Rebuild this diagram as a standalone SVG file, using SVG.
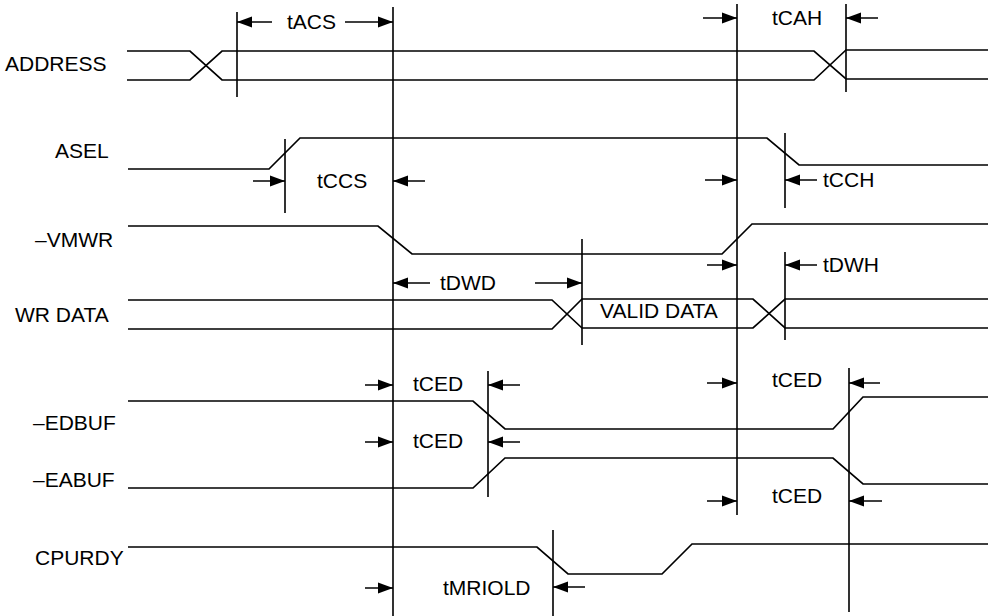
<svg xmlns="http://www.w3.org/2000/svg" width="990" height="616" viewBox="0 0 990 616">
<style>
text{font-family:"Liberation Sans",Arial,sans-serif;font-size:21px;fill:#000}
.sig{fill:none;stroke:#000;stroke-width:1.7;stroke-linejoin:miter}
.ref{fill:none;stroke:#000;stroke-width:1.6}
.dim{fill:none;stroke:#000;stroke-width:1.5;marker-end:url(#ah)}
</style>
<defs>
<marker id="ah" markerUnits="userSpaceOnUse" markerWidth="16" markerHeight="12" refX="15" refY="6" orient="auto">
<path d="M0,0.5 L15,6 L0,11.5 z" fill="#000"/>
</marker>
</defs>
<rect width="990" height="616" fill="#fff"/>

<g id="ADDRESS">
<text x="5" y="71">ADDRESS</text>
<path class="sig" d="M127,51 H190 L222,80 H814 L846,50 H988"/>
<path class="sig" d="M127,80 H190 L222,51 H814 L846,79 H988"/>
</g>
<g id="ASEL">
<text x="55" y="158">ASEL</text>
<path class="sig" d="M128,169 H269 L300,138 H767 L799,165 H988"/>
</g>
<g id="VMWR">
<text x="35" y="247">–VMWR</text>
<path class="sig" d="M128,226 H378 L412,254 H722 L752,224 H988"/>
</g>
<g id="WRDATA">
<text x="15" y="322">WR DATA</text>
<path class="sig" d="M128,300 H552 L582,328 H753 L785,299 H988"/>
<path class="sig" d="M128,329 H552 L582,299 H753 L785,328 H988"/>
<text x="600" y="318">VALID DATA</text>
</g>
<g id="EDBUF">
<text x="33" y="430">–EDBUF</text>
<path class="sig" d="M128,401 H473 L505,429 H833 L863,397 H988"/>
</g>
<g id="EABUF">
<text x="33" y="487">–EABUF</text>
<path class="sig" d="M128,488 H473 L505,458 H833 L863,484 H988"/>
</g>
<g id="CPURDY">
<text x="35" y="565">CPURDY</text>
<path class="sig" d="M128,547 H537 L568,574 H662 L692,544 H988"/>
</g>

<g id="connectors">
<path class="ref" d="M237,12 V97 M393,7 V616 M737,4 V515 M846,4 V92 M285,139 V213 M785,133 V208 M582,239 V345 M785,252 V340 M488,371 V497 M849,368 V612 M553,530 V616"/>
<path class="dim" d="M272,22 H237"/>
<path class="dim" d="M345,22 H393"/>
<path class="dim" d="M703,18 H737"/>
<path class="dim" d="M878,18 H846"/>
<path class="dim" d="M253,181 H285"/>
<path class="dim" d="M425,181 H393"/>
<path class="dim" d="M705,180 H737"/>
<path class="dim" d="M817,180 H785"/>
<path class="dim" d="M430,283 H393"/>
<path class="dim" d="M535,283 H582"/>
<path class="dim" d="M707,265 H737"/>
<path class="dim" d="M817,265 H785"/>
<path class="dim" d="M365,385 H393"/>
<path class="dim" d="M520,385 H488"/>
<path class="dim" d="M365,442 H393"/>
<path class="dim" d="M520,442 H488"/>
<path class="dim" d="M707,383 H737"/>
<path class="dim" d="M880,383 H849"/>
<path class="dim" d="M707,501 H737"/>
<path class="dim" d="M882,501 H849"/>
<path class="dim" d="M365,588 H393"/>
<path class="dim" d="M585,587 H553"/>
<text x="287" y="29">tACS</text>
<text x="772" y="25">tCAH</text>
<text x="317" y="188">tCCS</text>
<text x="823" y="187">tCCH</text>
<text x="440" y="290">tDWD</text>
<text x="823" y="272">tDWH</text>
<text x="413" y="391">tCED</text>
<text x="413" y="448">tCED</text>
<text x="772" y="387">tCED</text>
<text x="772" y="503">tCED</text>
<text x="443" y="595">tMRIOLD</text>
</g>
</svg>
